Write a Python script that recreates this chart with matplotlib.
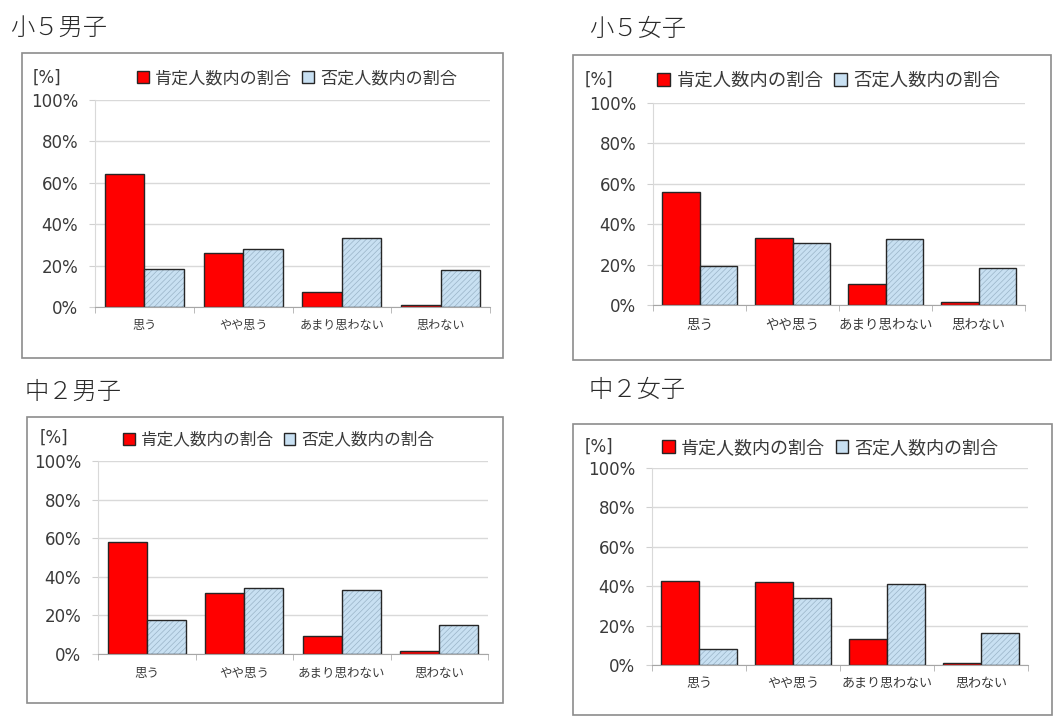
import matplotlib
matplotlib.use("agg")
import matplotlib.pyplot as plt
from matplotlib.patches import Rectangle, Patch
from matplotlib.font_manager import FontProperties
import numpy as np

W, H = 1054, 717

categories = ['思う', 'やや思う', 'あまり思わない', '思わない']
legend_labels = ['肯定人数内の割合', '否定人数内の割合']
titles = ['小５男子', '小５女子', '中２男子', '中２女子']

# 肯定 / 否定 の割合 [%]
sho5_boys_pos = [64.2, 26.1, 7.3, 0.8]
sho5_boys_neg = [18.5, 28.2, 33.1, 17.7]
sho5_girls_pos = [56.0, 33.0, 10.2, 1.3]
sho5_girls_neg = [19.3, 30.6, 32.6, 18.1]
chu2_boys_pos = [57.8, 31.7, 9.3, 1.6]
chu2_boys_neg = [17.6, 34.3, 33.1, 15.0]
chu2_girls_pos = [42.7, 42.2, 13.0, 1.2]
chu2_girls_neg = [7.9, 33.8, 41.0, 16.4]

yticks = [0, 20, 40, 60, 80, 100]

RED = '#ff0000'
BLUE = '#c8e0f2'
HATCH = '#9ab4c8'
EDGE = '#262626'
TXT = '#3a3a3a'

plt.rcParams['hatch.linewidth'] = 0.5

jp = 'Noto Sans CJK JP'

# panel geometry in pixels: box(l,t,r,b), axes(l,t,r,b), title(x,y), legend(x,y), [%](x,y), font sizes
panels = [
    dict(pos=sho5_boys_pos, neg=sho5_boys_neg, box=(22, 53, 503, 358), ax=(95, 100, 490, 307),
         title=(10, 28), leg=(137, 78), unit=(33, 78), lfs=12.3, cfs=8.7),
    dict(pos=sho5_girls_pos, neg=sho5_girls_neg, box=(573, 55, 1051, 360), ax=(653, 103, 1025, 305),
         title=(589, 29), leg=(657, 81), unit=(585, 80), lfs=13.2, cfs=9.7),
    dict(pos=chu2_boys_pos, neg=chu2_boys_neg, box=(27, 417, 503, 703), ax=(98, 461, 488, 654),
         title=(25, 392), leg=(123, 440), unit=(40, 438), lfs=12.0, cfs=9.0),
    dict(pos=chu2_girls_pos, neg=chu2_girls_neg, box=(573, 424, 1052, 715), ax=(652, 468, 1028, 665),
         title=(589, 390), leg=(662, 448), unit=(585, 447), lfs=13.0, cfs=9.4),
]

fig = plt.figure(figsize=(W / 100, H / 100), dpi=100)
fig.patch.set_facecolor('white')

x = np.arange(len(categories))
bw = 0.4

for title, p in zip(titles, panels):
    bl, bt, br, bb = p['box']
    fig.add_artist(Rectangle((bl / W, 1 - bb / H), (br - bl) / W, (bb - bt) / H,
                             transform=fig.transFigure, fill=False, ec='#8c8c8c', lw=1.2))
    fig.text(p['title'][0] / W, 1 - p['title'][1] / H, title, family=jp, fontsize=17.5,
             weight='light', color='#2a2a2a', va='center', ha='left')

    al, at, ar, ab = p['ax']
    ax = fig.add_axes([al / W, 1 - ab / H, (ar - al) / W, (ab - at) / H])

    ax.bar(x - bw / 2, p['pos'], bw, color=RED, edgecolor=EDGE, linewidth=1.0, zorder=3)
    # hatched fill first, then outline on top
    ax.bar(x + bw / 2, p['neg'], bw, color=BLUE, edgecolor=HATCH, hatch='//////', linewidth=0, zorder=3)
    ax.bar(x + bw / 2, p['neg'], bw, fill=False, edgecolor=EDGE, linewidth=1.0, zorder=4)

    ax.set_xlim(-0.5, len(categories) - 0.5)
    ax.set_ylim(0, 100)
    ax.set_yticks(yticks)
    ax.set_yticklabels([f'{v}%' for v in yticks], fontsize=12, color=TXT)
    ax.set_xticks(x)
    ax.set_xticklabels(categories, family=jp, fontsize=p['cfs'], color=TXT)
    ax.set_xticks(np.arange(len(categories) + 1) - 0.5, minor=True)
    ax.tick_params(axis='x', which='major', length=0, pad=9)
    ax.tick_params(axis='x', which='minor', length=4, color='#b0b0b0', direction='out')
    ax.tick_params(axis='y', length=4, color='#d0d0d0', pad=8)
    ax.yaxis.grid(True, color='#d9d9d9', lw=1, zorder=0)
    ax.set_axisbelow(True)
    for s in ['top', 'right']:
        ax.spines[s].set_visible(False)
    ax.spines['left'].set_color('#d9d9d9')
    ax.spines['bottom'].set_color('#a6a6a6')
    ax.spines['bottom'].set_zorder(5)

    fig.text(p['unit'][0] / W, 1 - p['unit'][1] / H, '[%]', fontsize=12, color=TXT,
             va='center', ha='left')

    handles = [Patch(facecolor=RED, edgecolor=EDGE, lw=1.0),
               Patch(facecolor=BLUE, edgecolor=EDGE, lw=1.0)]
    ax.legend(handles, legend_labels, loc='center left',
              bbox_to_anchor=(p['leg'][0] / W, 1 - p['leg'][1] / H), bbox_transform=fig.transFigure,
              ncol=2, frameon=False, handlelength=0.7, handleheight=0.7, handletextpad=0.35,
              columnspacing=0.6, borderpad=0, borderaxespad=0,
              prop=FontProperties(family=jp, size=p['lfs']), labelcolor=TXT)

fig.savefig('out.png', dpi=100, facecolor='white')
